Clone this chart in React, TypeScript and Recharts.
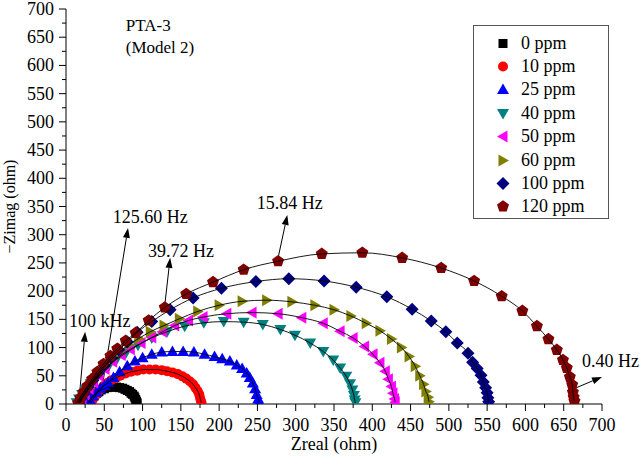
import React from 'react';
import { ScatterChart, Scatter, XAxis, YAxis, Legend, ReferenceLine, ReferenceDot } from 'recharts';

const FONT = '"Liberation Serif", "Times New Roman", serif';

// Zreal / -Zimag pairs (ohm)
const ppm0 = [[30,2],[32,7],[34,11],[37,15],[40,19],[43,22],[46,25],[50,27],[54,29],[58,30],[62,30],[66,30],[70,29],[74,28],[77,26],[80,24],[83,22],[85,19],[87,17],[89,14],[90,11],[91,8],[92,5],[93,2]];
const ppm10 = [[33,2],[35,8],[38,14],[41,20],[45,26],[49,32],[54,37],[59,42],[65,46],[71,50],[78,54],[85,57],[93,59],[101,61],[109,61],[117,61],[125,60],[132,58],[139,56],[146,53],[152,49],[157,45],[162,40],[166,35],[169,29],[172,23],[174,17],[175,11],[176,6],[177,2]];
const ppm25 = [[28,2],[31,8],[35,14],[40,21],[45,28],[50,33],[55,38],[62,47],[70,57],[80,68],[90,76],[100,82],[112,88],[125,92],[139,93],[153,93],[167,92],[181,88],[194,84],[204,80],[214,76],[223,69],[230,63],[236,55],[240,47],[244,37],[247,27],[249,17],[251,9],[252,3]];
const ppm40 = [[14,2],[17,9],[21,17],[26,26],[32,36],[39,46],[47,57],[56,68],[66,79],[78,90],[94,104],[112,117],[132,128],[155,138],[180,144],[206,146],[232,145],[257,141],[280,132],[299,122],[319,108],[336,93],[349,78],[358,64],[366,49],[371,36],[374,25],[376,15],[377,7],[378,2]];
const ppm50 = [[18,2],[21,9],[25,17],[30,27],[36,38],[43,50],[51,62],[61,75],[72,87],[84,97],[98,108],[112,118],[126,128],[142,139],[160,148],[179,154],[210,160],[243,162],[277,160],[308,153],[336,143],[358,129],[375,117],[390,102],[401,88],[410,73],[417,58],[421,44],[425,31],[427,19],[429,9],[430,3]];
const ppm60 = [[18,2],[21,10],[25,19],[30,29],[36,41],[43,54],[51,67],[60,80],[70,92],[82,105],[95,116],[110,128],[128,139],[148,151],[172,164],[200,175],[230,182],[262,184],[295,181],[325,175],[350,167],[372,156],[392,143],[410,130],[425,115],[438,100],[448,84],[456,67],[462,50],[467,35],[470,22],[473,12],[474,4]];
const ppm100 = [[17,2],[20,10],[24,19],[29,30],[35,42],[42,55],[50,68],[59,82],[69,96],[80,110],[93,127],[112,146],[136,167],[166,188],[203,205],[248,217],[291,222],[337,218],[379,207],[419,190],[452,168],[477,147],[496,128],[511,108],[525,90],[531,74],[537,63],[542,51],[545,39],[548,29],[550,20],[551,11],[552,4]];
const ppm120 = [[16,2],[19,11],[23,21],[28,32],[34,44],[41,57],[49,71],[58,85],[67,98],[78,112],[91,126],[108,148],[129,171],[157,195],[192,216],[232,238],[277,253],[334,266],[387,268],[439,259],[490,241],[533,218],[569,191],[596,165],[615,138],[630,115],[641,96],[649,78],[654,64],[658,48],[661,34],[662,21],[663,12],[664,5]];

const seriesNames = ['0 ppm', '10 ppm', '25 ppm', '40 ppm', '50 ppm', '60 ppm', '100 ppm', '120 ppm'];
const seriesData = [ppm0, ppm10, ppm25, ppm40, ppm50, ppm60, ppm100, ppm120];
const seriesColors = ['#000000', '#ff0000', '#0000ff', '#008080', '#ff00ff', '#808000', '#000080', '#800000'];
const seriesMarkers = ['square', 'circle', 'up', 'down', 'left', 'right', 'diamond', 'pentagon'];

const axisTicks = [0,25,50,75,100,125,150,175,200,225,250,275,300,325,350,375,400,425,450,475,500,525,550,575,600,625,650,675,700];

// frequency annotations: label position, arrow tail, arrow head (data units)
const noteText = ['100 kHz', '125.60 Hz', '39.72 Hz', '15.84 Hz', '0.40 Hz'];
const noteLabel = [[4,136],[61,321],[107,260],[249,346],[674,66]];
const noteTail = [[17,7],[47,28],[129,175],[277,259],[665,28]];
const noteHead = [[25,128],[81,312],[136,259],[289,335],[700,48]];

const titleLines = ['PTA-3', '(Model 2)'];
const titlePos = [[78,661],[78,622]];

const Marker = ({ kind, color, cx, cy }: any) => {
  if (kind === 'square') return <rect x={cx - 4.5} y={cy - 4.5} width={9} height={9} fill={color} />;
  if (kind === 'circle') return <circle cx={cx} cy={cy} r={5} fill={color} />;
  let pts: number[][] = [];
  if (kind === 'up') pts = [[0,-6],[6,4.5],[-6,4.5]];
  if (kind === 'down') pts = [[0,6],[6,-4.5],[-6,-4.5]];
  if (kind === 'left') pts = [[-6,0],[4.5,-6],[4.5,6]];
  if (kind === 'right') pts = [[6,0],[-4.5,-6],[-4.5,6]];
  if (kind === 'diamond') pts = [[0,-6.5],[6.5,0],[0,6.5],[-6.5,0]];
  if (kind === 'pentagon') pts = [0,1,2,3,4].map((k) => {
    const a = (-90 + 72 * k) * Math.PI / 180;
    return [6.3 * Math.cos(a), 6.3 * Math.sin(a)];
  });
  return <polygon points={pts.map((p) => `${cx + p[0]},${cy + p[1]}`).join(' ')} fill={color} />;
};

const XTick = ({ x, y, payload }: any) => {
  const major = payload.value % 50 === 0;
  return (
    <g>
      <line x1={x} x2={x} y1={y} y2={y + (major ? 7 : 4)} stroke="#000" />
      {major && (
        <text x={x} y={y + 27} textAnchor="middle" fontSize={18} fontFamily={FONT} fill="#000">
          {payload.value}
        </text>
      )}
    </g>
  );
};

const YTick = ({ x, y, payload }: any) => {
  const major = payload.value % 50 === 0;
  return (
    <g>
      <line x1={x - (major ? 7 : 4)} x2={x} y1={y} y2={y} stroke="#000" />
      {major && (
        <text x={x - 12} y={y + 6} textAnchor="end" fontSize={18} fontFamily={FONT} fill="#000">
          {payload.value}
        </text>
      )}
    </g>
  );
};

const Arrow = ({ x1, y1, x2, y2 }: any) => {
  const a = Math.atan2(y2 - y1, x2 - x1);
  const bx = x2 - 10 * Math.cos(a);
  const by = y2 - 10 * Math.sin(a);
  const s = Math.sin(a) * 3.5;
  const c = Math.cos(a) * 3.5;
  return (
    <g>
      <line x1={x1} y1={y1} x2={bx} y2={by} stroke="#000" strokeWidth={1} />
      <polygon points={`${x2},${y2} ${bx + s},${by - c} ${bx - s},${by + c}`} fill="#000" />
    </g>
  );
};

const LegendBox = () => (
  <div style={{ border: '1px solid #555', width: 134, height: 192, background: '#fff', position: 'relative', fontFamily: FONT, fontSize: 18, color: '#000' }}>
    {seriesNames.map((name, i) => (
      <div key={name} style={{ position: 'absolute', left: 0, top: 5.5 + i * 23.4, height: 23, display: 'flex', alignItems: 'center' }}>
        <svg width={47} height={23}>
          <Marker kind={seriesMarkers[i]} color={seriesColors[i]} cx={29} cy={11.5} />
        </svg>
        <span style={{ lineHeight: '23px' }}>{name}</span>
      </div>
    ))}
  </div>
);

export default function App() {
  return (
    <div style={{ position: 'absolute', left: 0, top: 0, background: '#fff' }}>
      <ScatterChart width={641} height={461} margin={{ top: 9, right: 39, bottom: 7, left: 6 }}>
        <XAxis
          type="number"
          dataKey="x"
          domain={[0, 700]}
          ticks={axisTicks}
          interval={0}
          allowDataOverflow
          height={50}
          tickSize={0}
          tickMargin={0}
          tick={<XTick />}
          axisLine={{ stroke: '#000' }}
          label={({ viewBox }: any) => (
            <text x={viewBox.x + viewBox.width / 2} y={viewBox.y + 46} textAnchor="middle" fontSize={18} fontFamily={FONT} fill="#000">
              Zreal (ohm)
            </text>
          )}
        />
        <YAxis
          type="number"
          dataKey="y"
          domain={[0, 700]}
          ticks={axisTicks}
          interval={0}
          allowDataOverflow
          width={60}
          tickSize={0}
          tickMargin={0}
          tick={<YTick />}
          axisLine={{ stroke: '#000' }}
          label={({ viewBox }: any) => {
            const cx = viewBox.x + 9;
            const cy = viewBox.y + viewBox.height / 2;
            return (
              <text x={cx} y={cy} transform={`rotate(-90, ${cx}, ${cy})`} textAnchor="middle" fontSize={16} fontFamily={FONT} fill="#000">
                −Zimag (ohm)
              </text>
            );
          }}
        />
        <Legend
          layout="vertical"
          align="center"
          verticalAlign="middle"
          content={() => <LegendBox />}
          wrapperStyle={{ position: 'absolute', left: 473, top: 25, width: 136, height: 194 }}
        />
        {seriesData.map((d, i) => (
          <Scatter
            key={seriesNames[i]}
            name={seriesNames[i]}
            data={d.map((p) => ({ x: p[0], y: p[1] }))}
            isAnimationActive={false}
            shape={(p: any) => <Marker kind={seriesMarkers[i]} color={seriesColors[i]} cx={p.cx} cy={p.cy} />}
          />
        ))}
        {seriesData.map((d, i) => (
          <Scatter
            key={'fit-' + seriesNames[i]}
            name={'fit ' + seriesNames[i]}
            legendType="none"
            data={d.map((p) => ({ x: p[0], y: p[1] }))}
            isAnimationActive={false}
            line={{ stroke: '#000', strokeWidth: 0.9 }}
            lineJointType="monotoneX"
            shape={() => <g />}
          />
        ))}
        {noteText.map((t, i) => (
          <ReferenceLine
            key={'arrow-' + t}
            segment={[{ x: noteTail[i][0], y: noteTail[i][1] }, { x: noteHead[i][0], y: noteHead[i][1] }]}
            ifOverflow="visible"
            shape={<Arrow />}
          />
        ))}
        {noteText.map((t, i) => (
          <ReferenceDot
            key={'note-' + t}
            x={noteLabel[i][0]}
            y={noteLabel[i][1]}
            r={0}
            ifOverflow="visible"
            shape={(p: any) => (
              <text x={p.cx} y={p.cy} fontSize={18} fontFamily={FONT} fill="#000">{t}</text>
            )}
          />
        ))}
        {titleLines.map((t, i) => (
          <ReferenceDot
            key={'title-' + t}
            x={titlePos[i][0]}
            y={titlePos[i][1]}
            r={0}
            ifOverflow="visible"
            shape={(p: any) => (
              <text x={p.cx} y={p.cy} fontSize={17} fontFamily={FONT} fill="#000">{t}</text>
            )}
          />
        ))}
      </ScatterChart>
    </div>
  );
}
